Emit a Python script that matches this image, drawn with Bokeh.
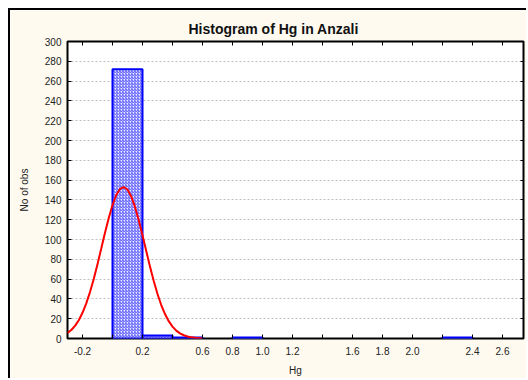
from bokeh.plotting import figure
from bokeh.models import FixedTicker, LinearAxis, Title, Range1d
from bokeh.embed import file_html
from bokeh.resources import INLINE

# Histogram bins (Hg) and counts
bin_left = [0.0, 0.2, 0.4, 0.8, 2.2]
bin_right = [0.2, 0.4, 0.6, 1.0, 2.4]
counts = [272, 3, 1, 1, 1]

# Fitted normal curve
curve_x = [-0.300, -0.275, -0.250, -0.225, -0.200, -0.175, -0.150, -0.125, -0.100,
           -0.075, -0.050, -0.025, 0.000, 0.025, 0.050, 0.075, 0.100, 0.125, 0.150,
           0.175, 0.200, 0.225, 0.250, 0.275, 0.300, 0.325, 0.350, 0.375, 0.400,
           0.425, 0.450, 0.475, 0.500, 0.525, 0.550, 0.575, 0.600]
curve_y = [5.6, 8.6, 12.8, 18.5, 26.0, 35.5, 46.9, 60.2, 75.1,
           90.9, 106.8, 121.8, 134.8, 144.9, 151.1, 153.0, 150.4, 143.5, 132.9,
           119.5, 104.2, 88.4, 72.6, 58.0, 44.9, 33.8, 24.7, 17.5, 12.0,
           8.0, 5.2, 3.3, 2.0, 1.2, 0.7, 0.4, 0.2]

x_labeled_ticks = [-0.2, 0.2, 0.6, 0.8, 1.0, 1.2, 1.6, 1.8, 2.0, 2.4, 2.6]
x_tick_labels = ["-0.2", "0.2", "0.6", "0.8", "1.0", "1.2", "1.6", "1.8", "2.0", "2.4", "2.6"]
x_unlabeled_ticks = [0.0, 0.4, 1.4, 2.2]
x_all_ticks = [-0.2, 0.0, 0.2, 0.4, 0.6, 0.8, 1.0, 1.2, 1.4, 1.6, 1.8, 2.0, 2.2, 2.4, 2.6]
y_ticks = list(range(0, 301, 20))

FONT = "Liberation Sans"
CREAM = "#FEFAF0"

p = figure(width=518, height=370, output_backend="svg", toolbar_location=None,
           x_range=Range1d(-0.3, 2.74), y_range=Range1d(0, 300),
           min_border_left=57, min_border_right=5, min_border_top=31, min_border_bottom=42,
           background_fill_color="white", border_fill_color=CREAM,
           styles={"margin-left": "8px", "margin-top": "8px",
                   "border-left": "2px solid black", "border-top": "2px solid black"})

p.title = Title(text="Histogram of Hg in Anzali", align="left",
                text_font=FONT, text_font_size="14px", text_font_style="bold",
                text_color="#111111", offset=121, standoff=10)

p.outline_line_color = "black"
p.outline_line_width = 2
p.outline_line_alpha = 1.0

p.xgrid.grid_line_color = None
p.ygrid.grid_line_color = "#bfbfbf"
p.ygrid.grid_line_dash = "2 2"
p.ygrid.ticker = FixedTicker(ticks=y_ticks)

for ax in (p.xaxis[0], p.yaxis[0]):
    ax.axis_line_color = None
    ax.major_tick_in = 4
    ax.major_tick_out = 0
    ax.minor_tick_line_color = None
    ax.major_tick_line_color = "black"
    ax.major_label_text_font = FONT
    ax.major_label_text_font_size = "10px"
    ax.major_label_text_color = "#222222"
    ax.axis_label_text_font = FONT
    ax.axis_label_text_font_size = "10px"
    ax.axis_label_text_font_style = "normal"
    ax.axis_label_text_color = "#222222"

p.xaxis[0].ticker = FixedTicker(ticks=x_labeled_ticks, minor_ticks=x_unlabeled_ticks)
p.xaxis[0].major_label_overrides = {t: l for t, l in zip(x_labeled_ticks, x_tick_labels)}
p.xaxis[0].minor_tick_line_color = "black"
p.xaxis[0].minor_tick_in = 4
p.xaxis[0].minor_tick_out = 0
p.xaxis[0].axis_label = "Hg"
p.xaxis[0].major_label_standoff = 8
p.xaxis[0].axis_label_standoff = 7

p.yaxis[0].ticker = FixedTicker(ticks=y_ticks)
p.yaxis[0].axis_label = "No of obs"
p.yaxis[0].major_label_standoff = 6
p.yaxis[0].axis_label_standoff = 12

top_ax = LinearAxis(ticker=FixedTicker(ticks=x_all_ticks), major_label_text_color=None,
                    axis_line_color=None, major_tick_in=4, major_tick_out=0,
                    minor_tick_line_color=None, major_label_standoff=0)
right_ax = LinearAxis(ticker=FixedTicker(ticks=y_ticks), major_label_text_color=None,
                      axis_line_color=None, major_tick_in=3, major_tick_out=0,
                      minor_tick_line_color=None, major_label_standoff=0)
p.add_layout(top_ax, "above")
p.add_layout(right_ax, "right")

p.quad(left=bin_left, right=bin_right, bottom=0, top=counts,
       fill_color="#eeeeff", line_color="#0000ff", line_width=2,
       hatch_pattern="/", hatch_color="#3a3aff", hatch_scale=3, hatch_weight=0.9)

p.line(curve_x, curve_y, line_color="#ff0000", line_width=2)

open("out.html", "w").write(file_html(p, INLINE))
